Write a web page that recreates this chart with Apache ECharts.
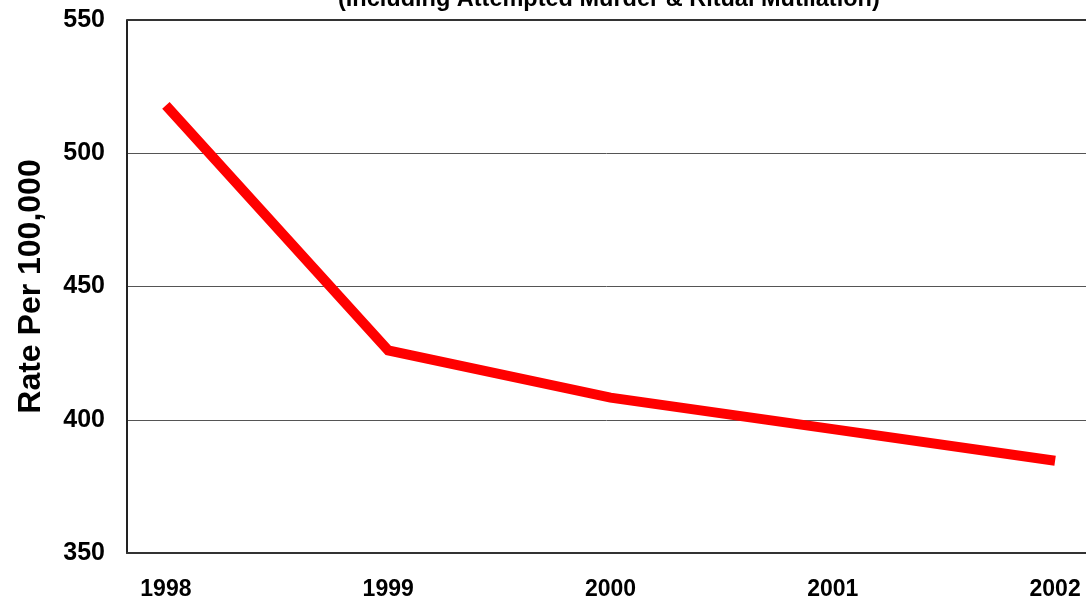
<!DOCTYPE html>
<html>
<head>
<meta charset="utf-8">
<script src="https://cdn.jsdelivr.net/npm/echarts@6/dist/echarts.min.js"></script>
<style>
  html, body { margin: 0; padding: 0; background: #fff; }
</style>
</head>
<body>
<div id="main" style="width: 1086px;height:601px;"></div>
<script type="text/javascript">
    // data
    var years = [1998, 1999, 2000, 2001, 2002];
    var rates = [518, 426, 408.3, 396.5, 384.6];
    var yTicks = [350, 400, 450, 500, 550];

    var points = years.map(function (y, i) { return [y, rates[i]]; });

    var myChart = echarts.init(document.getElementById('main'));

    var option = {
        animation: false,
        title: {
            text: '(Including Attempted Murder & Ritual Mutilation)',
            left: 333,
            top: -17,
            textStyle: {
                fontFamily: 'Liberation Sans',
                fontSize: 23.5,
                fontWeight: 'bold',
                color: '#000'
            }
        },
        grid: {
            left: 127,
            right: 0,
            top: 20,
            bottom: 47
        },
        xAxis: {
            type: 'value',
            min: 1997.825,
            max: 2002.139,
            splitLine: { show: false },
            axisLine: { lineStyle: { color: '#333', width: 2 } },
            axisTick: { show: false },
            axisLabel: {
                customValues: years,
                formatter: function (v) { return String(v); },
                margin: 25,
                fontFamily: 'Liberation Sans',
                fontSize: 23,
                fontWeight: 'bold',
                color: '#000'
            }
        },
        yAxis: {
            type: 'value',
            min: 350,
            max: 550,
            interval: 50,
            name: 'Rate Per 100,000',
            nameLocation: 'middle',
            nameGap: 80,
            nameTextStyle: {
                fontFamily: 'Liberation Sans',
                fontSize: 32,
                fontWeight: 'bold',
                color: '#000'
            },
            axisLine: { show: true, lineStyle: { color: '#222', width: 2 } },
            axisTick: { show: false },
            axisLabel: {
                margin: 22,
                fontFamily: 'Liberation Sans',
                fontSize: 25,
                fontWeight: 'bold',
                color: '#000'
            },
            splitLine: { show: true, lineStyle: { color: '#555', width: 1 } }
        },
        series: [{
            type: 'line',
            data: points,
            showSymbol: false,
            symbol: 'none',
            lineStyle: { color: '#ff0000', width: 10, cap: 'butt', join: 'miter' },
            markLine: {
                silent: true,
                symbol: 'none',
                label: { show: false },
                lineStyle: { color: '#333', width: 2, type: 'solid' },
                data: [{ yAxis: yTicks[yTicks.length - 1] }]
            }
        }]
    };

    myChart.setOption(option);
</script>
</body>
</html>
